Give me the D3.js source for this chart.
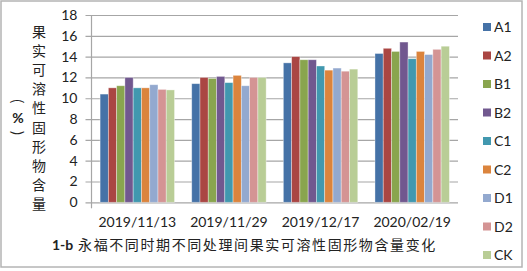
<!DOCTYPE html>
<html><head><meta charset="utf-8">
<script src="https://cdn.jsdelivr.net/npm/d3@7"></script>
<style>html,body{margin:0;padding:0;background:#fff;}svg{display:block;}</style>
</head><body>
<script>
const categories = ["2019/11/13","2019/11/29","2019/12/17","2020/02/19"];
const seriesNames = ["A1","A2","B1","B2","C1","C2","D1","D2","CK"];
const A1 = [10.4, 11.4, 13.4, 14.3];
const A2 = [11.0, 12.0, 14.0, 14.8];
const B1 = [11.2, 11.9, 13.7, 14.5];
const B2 = [12.0, 12.1, 13.7, 15.4];
const C1 = [11.0, 11.5, 13.1, 13.8];
const C2 = [11.0, 12.2, 12.7, 14.5];
const D1 = [11.3, 11.2, 12.9, 14.2];
const D2 = [10.85, 12.0, 12.6, 14.7];
const CK = [10.8, 12.0, 12.8, 15.0];
const yTicks = [0,2,4,6,8,10,12,14,16,18];
const colors = ["#4572A7","#AA4643","#89A54E","#71588F","#4198AF","#DB843D","#93A9CF","#D49494","#B9CD96"];
const yTitleMain = "果实可溶性固形物含量";
const xTitleBold = "1-b";
const xTitleRest = " 永福不同时期不同处理间果实可溶性固形物含量变化";

const seriesValues = [A1,A2,B1,B2,C1,C2,D1,D2,CK];
const W = 527, H = 271;
const svg = d3.select("body").append("svg").attr("width", W).attr("height", H);
const numFont = "Lato, 'Liberation Sans', sans-serif";
const cjkFont = "'Noto Sans CJK SC', sans-serif";

svg.append("rect").attr("x",1).attr("y",1).attr("width",521).attr("height",266)
  .attr("fill","#fff").attr("stroke","#B4B4B4").attr("stroke-width",1.5);

const pLeft = 91.5, pRight = 458, pTop = 15, pBottom = 202.3;
const x0 = d3.scaleBand().domain(categories).range([pLeft, pRight]).paddingInner(0).paddingOuter(0);
const x1 = d3.scaleBand().domain(seriesNames).range([0, x0.bandwidth()]).paddingOuter(1.04);
const y = d3.scaleLinear().domain([0, 18]).range([pBottom, pTop]);

// gridlines
const yAxis = d3.axisLeft(y).tickValues(yTicks).tickSize(-(pRight - pLeft)).tickPadding(10);
const gy = svg.append("g").attr("transform", `translate(${pLeft},0)`).call(yAxis);
gy.select(".domain").remove();
gy.selectAll(".tick line").attr("stroke","#A6A6A6").attr("stroke-width",1.2).attr("x1",-6);
gy.selectAll(".tick text").attr("font-family", numFont).attr("font-size","14px").attr("fill","#222").attr("x",-14);

// y axis line
svg.append("line").attr("x1",pLeft).attr("x2",pLeft).attr("y1",pTop).attr("y2",pBottom+6)
  .attr("stroke","#A6A6A6").attr("stroke-width",1.2);

// bars
seriesNames.forEach((s, si) => {
  svg.append("g").selectAll("rect").data(seriesValues[si]).join("rect")
    .attr("x", (d, i) => x0(categories[i]) + x1(s))
    .attr("width", x1.bandwidth())
    .attr("y", d => y(d))
    .attr("height", d => y(0) - y(d))
    .attr("fill", colors[si])
    .attr("stroke", "rgba(255,255,255,0.45)").attr("stroke-width", 0.8);
});

// x labels
const xAxis = d3.axisBottom(x0).tickSize(0).tickPadding(15);
const gx = svg.append("g").attr("transform", `translate(0,${pBottom})`).call(xAxis);
gx.select(".domain").remove();
gx.selectAll(".tick text").attr("font-family", numFont).attr("font-size","14px").attr("fill","#222");

// y title (vertical stacked)
const ch = Array.from(yTitleMain);
svg.append("g").selectAll("text").data(ch).join("text")
  .attr("x", 39).attr("y", (d,i) => 32 + i*19.1).attr("dy","0.36em")
  .attr("text-anchor","middle").attr("font-family", cjkFont).attr("font-size","14px").attr("fill","#222")
  .text(d => d);
svg.append("text").attr("transform","translate(18,101) rotate(90)").attr("text-anchor","middle").attr("dy","0.35em")
  .attr("font-family", cjkFont).attr("font-size","14px").attr("fill","#222").text("(");
svg.append("text").attr("x",18).attr("y",118).attr("text-anchor","middle").attr("dy","0.36em")
  .attr("font-family", numFont).attr("font-size","14px").attr("font-weight","bold").attr("fill","#222").text("%");
svg.append("text").attr("transform","translate(18,133) rotate(90)").attr("text-anchor","middle").attr("dy","0.35em")
  .attr("font-family", cjkFont).attr("font-size","14px").attr("fill","#222").text(")");

// x title
const xt = svg.append("text").attr("x", 52).attr("y", 250).attr("fill","#222").attr("font-size","14px");
xt.append("tspan").attr("font-family", numFont).attr("font-weight","bold").text(xTitleBold);
xt.append("tspan").attr("font-family", cjkFont).attr("letter-spacing","1.6px").text(xTitleRest);

// legend
const lg = svg.append("g").selectAll("g").data(seriesNames).join("g")
  .attr("transform", (d,i) => `translate(483,${27 + i*28.5})`);
lg.append("rect").attr("x",0).attr("y",-4).attr("width",8).attr("height",8).attr("fill",(d,i)=>colors[i]);
lg.append("text").attr("x",11).attr("dy","0.36em").attr("font-family", numFont).attr("font-size","14px").attr("fill","#222").text(d=>d);
</script>
</body></html>
